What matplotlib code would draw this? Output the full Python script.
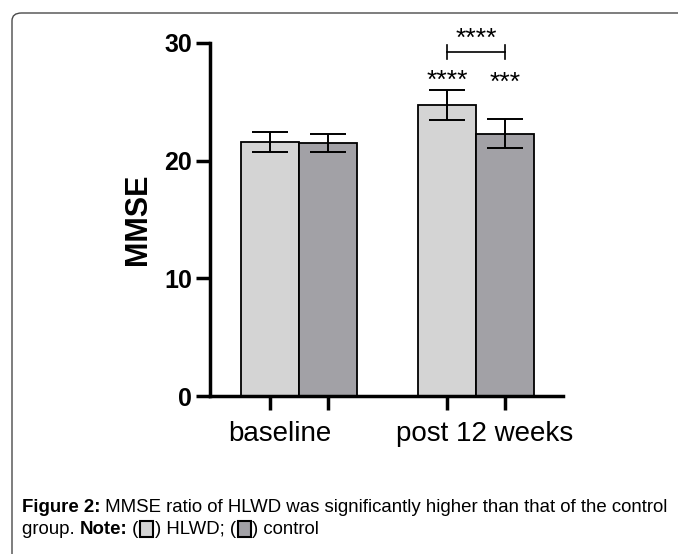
import matplotlib.pyplot as plt
from matplotlib.patches import FancyBboxPatch, Rectangle
import numpy as np

plt.rcParams['font.family'] = ['Liberation Sans', 'DejaVu Sans']

groups = ["baseline", "post 12 weeks"]
hlwd_mean = [21.6, 24.7]
hlwd_err = [0.85, 1.27]
ctrl_mean = [21.5, 22.3]
ctrl_err = [0.8, 1.2]
hlwd_stars = ["", "****"]
ctrl_stars = ["", "***"]
between_stars = ["", "****"]

hlwd_color = "#d4d4d4"
ctrl_color = "#a2a1a6"

fig = plt.figure(figsize=(6.78, 5.54), dpi=100)

# rounded frame around figure + caption
frame = FancyBboxPatch((12 / 678, -0.2), 1.2, 1 - 13 / 554 + 0.2,
                       boxstyle="round,pad=0,rounding_size=0.014",
                       transform=fig.transFigure, fill=False,
                       edgecolor="#4a4a4a", linewidth=1.0)
fig.patches.append(frame)

ax = fig.add_axes([210 / 678, 1 - 396 / 554, 353 / 678, 353 / 554])

x = np.arange(len(groups))
w = 0.328
ax.bar(x - w / 2, hlwd_mean, width=w, color=hlwd_color, edgecolor="black", linewidth=1.3, zorder=2)
ax.bar(x + w / 2, ctrl_mean, width=w, color=ctrl_color, edgecolor="black", linewidth=1.3, zorder=2)
ax.errorbar(x - w / 2, hlwd_mean, yerr=hlwd_err, fmt="none", ecolor="black",
            elinewidth=1.4, capsize=13, capthick=1.4, zorder=3)
ax.errorbar(x + w / 2, ctrl_mean, yerr=ctrl_err, fmt="none", ecolor="black",
            elinewidth=1.4, capsize=13, capthick=1.4, zorder=3)

for i in range(len(groups)):
    if hlwd_stars[i]:
        ax.text(x[i] - w / 2, hlwd_mean[i] + hlwd_err[i] - 0.2, hlwd_stars[i],
                ha="center", va="bottom", fontsize=19)
    if ctrl_stars[i]:
        ax.text(x[i] + w / 2, hlwd_mean[i] + hlwd_err[i] - 0.4, ctrl_stars[i],
                ha="center", va="bottom", fontsize=19)
    if between_stars[i]:
        yb = 29.25
        ax.plot([x[i] - w / 2, x[i] + w / 2], [yb, yb], color="black", lw=1.2, clip_on=False)
        for xe in [x[i] - w / 2, x[i] + w / 2]:
            ax.plot([xe, xe], [yb - 0.6, yb + 0.6], color="black", lw=1.2, clip_on=False)
        ax.text(x[i], yb + 0.1, between_stars[i], ha="center", va="bottom", fontsize=19)

ax.set_xlim(-0.503, 1.49)
ax.set_ylim(0, 30)
ax.set_yticks([0, 10, 20, 30])
ax.set_yticklabels(["0", "10", "20", "30"], fontsize=18, fontweight="bold")
ax.set_xticks(np.concatenate([x - w / 2, x + w / 2]))
ax.set_xticklabels([])
ax.tick_params(axis="both", width=2.5, length=10, direction="out")
ax.tick_params(axis="y", pad=3)
label_shift = [-0.107, 0.05]
for i, g in enumerate(groups):
    ax.text(x[i] + label_shift[i], -2.1, g, ha="center", va="top", fontsize=20)

for s in ["top", "right"]:
    ax.spines[s].set_visible(False)
ax.spines["left"].set_linewidth(2.5)
ax.spines["bottom"].set_linewidth(2.5)
ax.set_ylabel("MMSE", fontsize=22, fontweight="bold", labelpad=8)

# caption built from pieces so bold parts stay bold
renderer = fig.canvas.get_renderer()
cap_size = 13.4


def put_pieces(xpos, y, pieces):
    for txt, bold in pieces:
        t = fig.text(xpos, y, txt, fontsize=cap_size, va="center",
                     fontweight="bold" if bold else "normal")
        bb = t.get_window_extent(renderer=renderer)
        xpos += bb.width / fig.bbox.width
    return xpos


def put_swatch(xpos, y, color):
    fig.patches.append(Rectangle((xpos + 1.5 / 678, y - 8 / 554), 13 / 678, 16 / 554,
                                 transform=fig.transFigure, facecolor=color,
                                 edgecolor="black", linewidth=1.5))
    return xpos + 16 / 678


y1 = 1 - 508 / 554
y2 = 1 - 529 / 554
put_pieces(22 / 678, y1, [("Figure 2:", True),
                          (" MMSE ratio of HLWD was significantly higher than that of the control", False)])
xp = put_pieces(22 / 678, y2, [("group. ", False), ("Note:", True), (" (", False)])
xp = put_swatch(xp, y2, hlwd_color)
xp = put_pieces(xp, y2, [(") HLWD; (", False)])
xp = put_swatch(xp, y2, ctrl_color)
put_pieces(xp, y2, [(") control", False)])

fig.savefig("out.png", dpi=100)
